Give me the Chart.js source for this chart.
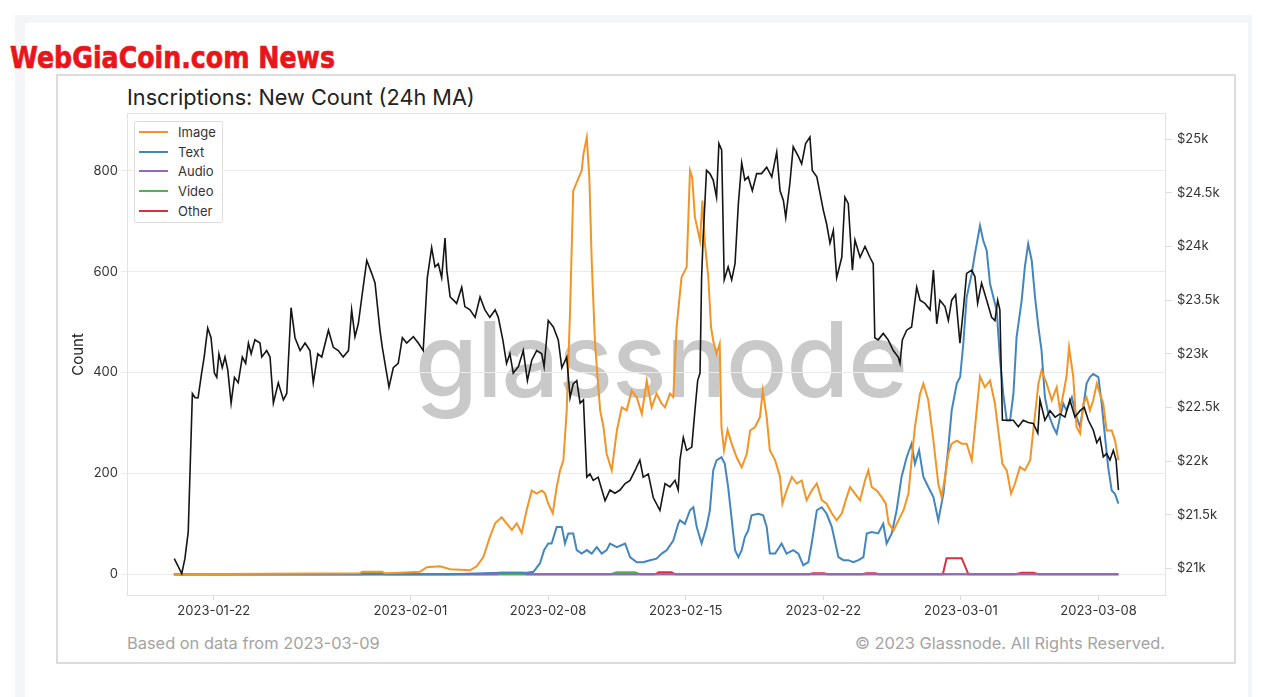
<!DOCTYPE html>
<html>
<head>
<meta charset="utf-8">
<script src="https://cdn.jsdelivr.net/npm/chart.js@4.4.1/dist/chart.umd.min.js"></script>
<style>
  html, body { margin:0; padding:0; background:#fff; }
  body { width:1261px; height:697px; position:relative; overflow:hidden; font-family: Inter, "Noto Sans", "DejaVu Sans", sans-serif; }
  .abs { position:absolute; }
  #outer { left:15px; top:15px; width:1237px; height:682px; background:#f4f5f7; }
  #inner { left:25px; top:23px; width:1223px; height:674px; background:#fff; }
  #card { left:56px; top:74px; width:1180px; height:590px; border:2px solid #dcdcdc; box-sizing:border-box; background:#fff; }
  #brand { left:10px; top:41px; font-family:"DejaVu Sans","Liberation Sans",sans-serif; font-weight:bold; font-size:30px; line-height:34px; color:#ea141b; white-space:nowrap; transform-origin:left top; -webkit-text-stroke:0.7px #ea141b; }
  #title { left:127px; top:87px; font-size:21.7px; line-height:21.7px; color:#222; white-space:nowrap; }
  #wm { left:415px; top:307px; font-size:104px; line-height:104px; font-weight:500; color:#c9c9c9; white-space:nowrap; transform-origin:left top; letter-spacing:-1px; }
  #foot1 { left:127px; top:635px; font-size:16.4px; line-height:16.4px; color:#a3a3a3; white-space:nowrap; }
  #foot2 { right:96px; top:635px; font-size:16.4px; line-height:16.4px; color:#a3a3a3; white-space:nowrap; }
  #legend { left:134px; top:121px; width:89px; height:102px; border:1px solid #dedede; box-sizing:border-box; background:#fff; border-radius:2px; padding-top:0.5px; z-index:5; }
  .row { height:19.6px; display:flex; align-items:center; font-size:13px; color:#333; }
  .sw { width:29px; height:2px; margin-left:4px; margin-right:10px; }
  canvas { position:absolute; left:0; top:0; z-index:3; }
</style>
</head>
<body>
<div id="outer" class="abs"></div>
<div id="inner" class="abs"></div>
<div id="card" class="abs"></div>
<div id="brand" class="abs">WebGiaCoin.com News</div>
<div id="title" class="abs">Inscriptions: New Count (24h MA)</div>
<div id="wm" class="abs">glassnode</div>
<div id="foot1" class="abs">Based on data from 2023-03-09</div>
<div id="foot2" class="abs">© 2023 Glassnode. All Rights Reserved.</div>
<div id="legend" class="abs"></div>
<canvas id="c" width="1261" height="697"></canvas>
<script>
// ---- Data (x = days since 2023-01-01, UTC) ----
const xTickDays = [21, 31, 38, 45, 52, 59, 66];
const countTicks = [0, 200, 400, 600, 800];
const priceTicks = [21000, 21500, 22000, 22500, 23000, 23500, 24000, 24500, 25000];

const seriesNames = ['Image', 'Text', 'Audio', 'Video', 'Other'];
const seriesColors = ['#f39426', '#4386bf', '#9467bd', '#54b054', '#d8303e'];

const imageDays = [18.97,28.43,28.54,29.55,29.71,30.47,31.49,31.83,32.50,33.02,
34.03,34.37,34.71,35.04,35.31,35.64,35.89,36.16,36.41,36.66,
36.91,37.17,37.42,37.68,37.85,38.01,38.24,38.44,38.61,38.78,
38.95,39.12,39.28,39.49,39.71,39.80,39.97,40.10,40.22,40.39,
40.65,40.82,40.98,41.24,41.50,41.75,42.00,42.25,42.51,42.77,
43.02,43.27,43.52,43.78,43.95,44.20,44.37,44.54,44.79,45.05,
45.22,45.33,45.47,45.73,45.85,45.98,46.15,46.29,46.40,46.57,
46.73,46.82,46.95,47.13,47.33,47.59,47.85,48.11,48.28,48.53,
48.78,48.92,49.12,49.28,49.55,49.80,49.92,50.13,50.40,50.65,
50.90,51.15,51.41,51.67,51.92,52.17,52.43,52.68,52.94,53.19,
53.36,53.61,53.87,54.12,54.29,54.46,54.72,54.97,55.18,55.32,
55.57,55.82,56.08,56.33,56.49,56.66,56.92,57.09,57.34,57.60,
57.85,58.02,58.19,58.36,58.53,58.79,59.04,59.29,59.55,59.80,
59.97,60.22,60.48,60.73,60.90,61.11,61.33,61.55,61.75,62.00,
62.25,62.52,62.68,62.94,63.10,63.36,63.62,63.87,64.04,64.21,
64.37,64.50,64.71,64.88,65.06,65.22,65.39,65.56,65.73,65.91,
66.07,66.24,66.41,66.67,66.84,67.01];
const imageCounts = [0,2,5,5,2,3,5,14,16,10,
8,16,34,74,101,113,101,88,101,82,
127,166,160,166,160,140,121,173,206,226,
325,523,760,780,800,833,866,787,622,457,
325,292,239,206,285,331,325,364,351,318,
384,331,358,338,331,358,351,490,589,609,
800,787,708,661,741,655,589,490,463,437,
457,292,246,286,260,232,212,239,285,292,
312,364,312,246,226,193,140,166,193,180,
186,147,166,180,147,140,121,107,121,153,
173,160,147,186,206,173,166,153,140,101,
87,107,127,160,226,292,358,378,345,265,
179,153,193,239,259,265,259,259,226,325,
392,371,384,338,285,219,206,160,180,213,
206,226,285,378,404,378,345,371,325,358,
392,450,392,292,279,338,351,325,345,378,
358,338,285,285,265,226];

const textDays = [18.97,33.02,35.56,36.93,37.26,37.59,37.80,38.01,38.18,38.44,
38.70,38.86,39.03,39.28,39.46,39.71,39.97,40.22,40.48,40.73,
40.98,41.15,41.50,41.92,42.17,42.51,42.84,43.19,43.52,43.78,
44.04,44.37,44.62,44.71,44.96,45.22,45.39,45.56,45.81,46.06,
46.23,46.40,46.57,46.82,46.99,47.16,47.33,47.51,47.68,47.85,
48.01,48.18,48.35,48.69,48.94,49.12,49.28,49.55,49.88,50.13,
50.47,50.73,50.98,51.24,51.41,51.67,51.92,52.17,52.43,52.77,
53.02,53.27,53.52,53.79,54.04,54.21,54.46,54.79,55.05,55.22,
55.48,55.73,55.98,56.24,56.49,56.66,56.87,57.09,57.34,57.60,
57.85,58.11,58.36,58.53,58.79,58.96,59.12,59.29,59.55,59.71,
59.97,60.13,60.31,60.48,60.65,60.82,60.98,61.15,61.33,61.50,
61.67,61.83,62.09,62.25,62.42,62.60,62.77,62.94,63.10,63.27,
63.45,63.70,63.87,64.04,64.21,64.37,64.64,64.88,65.06,65.22,
65.39,65.56,65.73,65.99,66.16,66.33,66.49,66.67,66.84,67.01];
const textCounts = [0,0,3,3,5,22,48,61,61,94,
94,61,81,81,48,41,48,41,54,41,
48,61,54,61,34,24,24,28,31,41,
48,67,100,107,100,127,133,94,61,94,
127,206,226,232,219,173,113,48,34,48,
74,87,117,120,117,94,41,41,61,41,
48,41,18,24,61,127,133,120,94,34,
28,28,24,28,34,81,84,81,100,61,
81,127,193,232,259,219,246,193,173,153,
107,160,252,325,378,391,457,549,596,635,
691,662,642,576,549,523,430,358,305,305,
358,470,543,609,655,622,549,490,444,351,
318,292,279,312,338,325,351,312,292,331,
378,391,397,391,338,272,212,166,159,140];

const audioDays = [18.97,35.41,35.59,36.72,36.90,67.01];
const audioCounts = [0,0,3,3,0,0];

const videoDays = [18.97,28.50,28.64,29.52,29.71,41.20,41.48,42.41,42.69,67.01];
const videoCounts = [0,0,4,4,0,0,4,4,0,0];

const otherDays = [18.97,43.44,43.63,44.28,44.47,51.28,51.47,52.03,52.22,53.99,54.18,54.64,54.83,58.08,58.27,59.04,59.38,61.74,62.11,62.67,62.95,67.01];
const otherCounts = [0,0,4,4,0,0,2,2,0,0,2,2,0,0,32,32,0,0,3,3,0,0];

const priceDays = [18.99,19.37,19.53,19.70,19.91,20.05,20.20,20.38,20.51,20.69,
20.86,21.03,21.15,21.26,21.43,21.57,21.71,21.88,22.05,22.24,
22.45,22.62,22.76,22.90,23.09,23.35,23.44,23.69,23.86,24.03,
24.28,24.54,24.71,24.93,25.13,25.39,25.64,25.89,26.06,26.29,
26.49,26.83,27.08,27.33,27.58,27.85,28.01,28.18,28.35,28.53,
28.78,29.03,29.20,29.45,29.57,29.91,30.13,30.38,30.59,30.81,
31.15,31.40,31.65,31.86,32.08,32.25,32.42,32.59,32.76,32.85,
33.02,33.19,33.35,33.61,33.77,34.03,34.29,34.54,34.79,35.04,
35.31,35.47,35.70,35.89,36.06,36.23,36.49,36.74,36.95,37.17,
37.42,37.68,37.80,38.01,38.27,38.52,38.70,38.95,39.12,39.28,
39.46,39.63,39.80,39.97,40.13,40.30,40.55,40.90,41.15,41.40,
41.66,41.92,42.17,42.42,42.67,42.84,43.10,43.35,43.69,43.95,
44.20,44.46,44.62,44.71,44.88,45.05,45.31,45.47,45.61,45.73,
45.81,45.89,46.06,46.23,46.40,46.57,46.69,46.83,46.96,47.16,
47.34,47.51,47.68,47.85,48.01,48.18,48.39,48.61,48.86,49.12,
49.38,49.63,49.80,49.97,50.09,50.30,50.47,50.73,50.90,51.10,
51.32,51.44,51.67,51.83,52.00,52.17,52.34,52.51,52.68,52.94,
53.10,53.27,53.48,53.61,53.87,54.12,54.37,54.54,54.62,54.79,
55.05,55.30,55.56,55.81,55.90,56.02,56.24,56.49,56.75,56.92,
57.17,57.43,57.60,57.77,57.93,58.19,58.36,58.53,58.73,58.86,
58.95,59.12,59.29,59.55,59.71,59.85,60.05,60.31,60.56,60.73,
60.87,60.98,61.11,61.40,61.66,61.92,62.17,62.42,62.68,62.91,
63.02,63.27,63.53,63.79,64.04,64.29,64.54,64.80,65.06,65.27,
65.48,65.73,65.91,66.07,66.24,66.41,66.58,66.75,66.89,67.01];
const priceUsd = [21090,20950,21090,21340,22630,22590,22590,22820,22970,23240,
23150,22820,22780,23000,22870,22970,22850,22540,22780,22730,
22970,22910,23100,23000,23130,23100,22970,23030,22970,22540,
22730,22570,22630,23430,23150,23030,23100,23030,22730,23000,
22970,23220,23060,23030,22970,23030,23410,23160,23280,23530,
23870,23750,23660,23220,23060,22690,22870,22910,23150,23100,
23160,23100,23030,23710,23990,23810,23840,23710,24080,23780,
23530,23500,23470,23620,23440,23410,23340,23530,23410,23340,
23410,23340,23130,22910,23000,22820,22880,23030,22750,22940,
23030,23000,22880,23310,23250,23130,22870,22970,22590,22720,
22750,22540,22570,21850,21880,21820,21850,21630,21730,21700,
21730,21790,21820,21910,22010,21850,21880,21660,21540,21790,
21760,21820,21730,22010,22220,22100,22130,22470,22750,22820,
23710,24090,24710,24680,24620,24460,24960,24900,23690,23810,
23690,23840,24400,24780,24620,24650,24520,24680,24680,24740,
24650,24880,24520,24430,24270,24590,24930,24840,24770,24960,
25020,24710,24650,24500,24340,24210,24030,24150,23710,23900,
24460,24400,23780,24060,23900,24000,23900,23840,23150,23130,
23190,23130,23030,22970,22910,23130,23220,23250,23620,23500,
23470,23410,23780,23280,23500,23440,23310,23500,23550,23280,
23100,23410,23750,23780,23720,23470,23660,23500,23340,23310,
23500,23410,22380,22380,22380,22320,22380,22360,22350,22260,
22570,22380,22470,22410,22440,22410,22570,22410,22470,22500,
22380,22290,22170,22220,22040,22070,22010,22100,22010,21730];

// ---- helpers ----
function pts(xs, ys) { return xs.map((x, i) => ({ x: x, y: ys[i] })); }
function dayLabel(d) {
  const t = new Date(Date.UTC(2023, 0, 1) + Math.round(d) * 86400000);
  return t.toISOString().slice(0, 10);
}

// HTML legend
const lg = document.getElementById('legend');
seriesNames.forEach((n, i) => {
  const r = document.createElement('div'); r.className = 'row';
  const s = document.createElement('div'); s.className = 'sw'; s.style.background = seriesColors[i];
  const t = document.createElement('span'); t.textContent = n;
  r.appendChild(s); r.appendChild(t); lg.appendChild(r);
});

// fit brand & watermark widths
function fitWidth(id, target) {
  const el = document.getElementById(id);
  const w = el.getBoundingClientRect().width;
  el.style.transform = 'scaleX(' + (target / w) + ')';
}
fitWidth('brand', 325);
fitWidth('wm', 492);

const framePlugin = {
  id: 'frame',
  beforeDatasetsDraw(chart) {
    const { ctx, chartArea: a } = chart;
    ctx.save();
    ctx.strokeStyle = '#e2e2e2';
    ctx.lineWidth = 1;
    ctx.strokeRect(Math.round(a.left) + 0.5, Math.round(a.top) + 0.5, Math.round(a.width) - 1, Math.round(a.height) - 1);
    ctx.restore();
  }
};

const tickFont = { family: 'Inter, "Noto Sans", sans-serif', size: 13 };
const seriesData = [
  pts(imageDays, imageCounts),
  pts(textDays, textCounts),
  pts(audioDays, audioCounts),
  pts(videoDays, videoCounts),
  pts(otherDays, otherCounts)
];

const datasets = [{
  label: 'BTC Price',
  data: pts(priceDays, priceUsd),
  yAxisID: 'y2',
  borderColor: '#151515',
  borderWidth: 1.6,
  pointRadius: 0,
  tension: 0
}].concat(seriesNames.map((n, i) => ({
  label: n,
  data: seriesData[i],
  yAxisID: 'y',
  borderColor: seriesColors[i],
  borderWidth: 2,
  pointRadius: 0,
  tension: 0
})));

new Chart(document.getElementById('c'), {
  type: 'line',
  data: { datasets: datasets },
  plugins: [framePlugin],
  options: {
    responsive: false,
    animation: false,
    devicePixelRatio: 1,
    layout: { padding: { left: 60, right: 26, top: 113, bottom: 70 } },
    plugins: { legend: { display: false }, tooltip: { enabled: false } },
    scales: {
      x: {
        type: 'linear',
        min: 16.585,
        max: 69.43,
        afterBuildTicks: s => { s.ticks = xTickDays.map(v => ({ value: v })); },
        afterFit: s => { s.height = 31; },
        ticks: { callback: v => dayLabel(v), autoSkip: false, maxRotation: 0, font: tickFont, color: '#333', padding: 3 },
        grid: { drawOnChartArea: false, drawTicks: true, tickLength: 4, color: '#d9d9d9' },
        border: { display: false }
      },
      y: {
        position: 'left',
        min: -43,
        max: 914.4,
        afterBuildTicks: s => { s.ticks = countTicks.map(v => ({ value: v })); },
        afterFit: s => { s.width = 67; },
        ticks: { font: tickFont, color: '#333', padding: 3 },
        grid: { color: '#ebebeb', tickLength: 6 },
        border: { display: false },
        title: { display: true, text: 'Count', color: '#222', font: { family: 'Inter, "Noto Sans", sans-serif', size: 15 }, padding: { top: 9, bottom: 0 } }
      },
      y2: {
        position: 'right',
        min: 20742,
        max: 25245,
        afterBuildTicks: s => { s.ticks = priceTicks.map(v => ({ value: v })); },
        afterFit: s => { s.width = 69; },
        ticks: { font: tickFont, color: '#333', padding: 5, callback: v => '$' + (v / 1000) + 'k' },
        grid: { drawOnChartArea: false, drawTicks: true, tickLength: 6, color: '#dcdcdc' },
        border: { display: false }
      }
    }
  }
});
</script>
</body>
</html>
